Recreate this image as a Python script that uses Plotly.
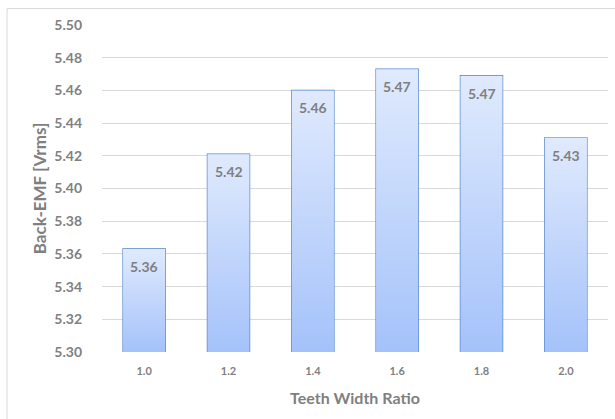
import plotly.graph_objects as go

# Back-EMF versus teeth width ratio
ratios = ["1.0", "1.2", "1.4", "1.6", "1.8", "2.0"]
back_emf = [5.363, 5.421, 5.460, 5.473, 5.469, 5.431]
y_ticks = [5.30, 5.32, 5.34, 5.36, 5.38, 5.40, 5.42, 5.44, 5.46, 5.48, 5.50]

Y_MIN, Y_MAX = 5.30, 5.50
BAR_W = 0.5
FONT = "Lato"
GRAY = "#7f7f7f"

fig = go.Figure()

# gradient fill for each bar (light at top, deeper blue at base)
for i, v in enumerate(back_emf):
    x0, x1 = i - BAR_W / 2, i + BAR_W / 2
    fig.add_trace(go.Scatter(
        x=[x0, x1, x1, x0, x0],
        y=[Y_MIN, Y_MIN, v, v, Y_MIN],
        mode="lines",
        line=dict(width=0),
        fill="toself",
        fillgradient=dict(
            type="vertical",
            colorscale=[[0, "#a4c2fa"], [1, "#e0eafd"]],
        ),
        hoverinfo="skip",
        showlegend=False,
    ))

# bar outlines
fig.add_trace(go.Bar(
    x=list(range(len(ratios))),
    y=[v - Y_MIN for v in back_emf],
    base=Y_MIN,
    width=BAR_W,
    marker=dict(color="rgba(0,0,0,0)", line=dict(color="#4f82cc", width=1.3)),
    hoverinfo="skip",
    showlegend=False,
))

# value labels just inside the top of each bar
annotations = [
    dict(x=i, y=v, xref="x", yref="y", text=f"{v:.2f}", showarrow=False,
         yanchor="top", yshift=-7,
         font=dict(family=FONT, size=14, color=GRAY, weight="bold"))
    for i, v in enumerate(back_emf)
]

fig.update_layout(
    width=615,
    height=419,
    margin=dict(l=102, r=7, t=25, b=67),
    paper_bgcolor="white",
    plot_bgcolor="white",
    font=dict(family=FONT, color=GRAY),
    showlegend=False,
    annotations=annotations,
    xaxis=dict(
        tickmode="array",
        tickvals=list(range(len(ratios))),
        ticktext=ratios,
        range=[-0.5, len(ratios) - 0.5],
        showgrid=False,
        zeroline=False,
        showline=False,
        ticks="",
        tickfont=dict(family=FONT, size=11, color=GRAY, weight="bold"),
        ticklabelstandoff=11,
        title=dict(text="Teeth Width Ratio", standoff=16,
                   font=dict(family=FONT, size=16, color=GRAY, weight="bold")),
    ),
    yaxis=dict(
        range=[Y_MIN, Y_MAX],
        tickmode="array",
        tickvals=y_ticks,
        ticktext=[f"{t:.2f}" for t in y_ticks],
        showgrid=True,
        gridcolor="#d9d9d9",
        gridwidth=1,
        zeroline=False,
        showline=False,
        ticks="",
        tickfont=dict(family=FONT, size=14, color=GRAY, weight="bold"),
        ticklabelstandoff=19,
        title=dict(text="Back-EMF [Vrms]", standoff=3,
                   font=dict(family=FONT, size=17, color=GRAY, weight="bold")),
    ),
    shapes=[
        # light frame round the chart
        dict(type="rect", xref="paper", yref="paper",
             x0=-0.1877, x1=1.03, y0=-0.21, y1=1.0505,
             line=dict(color="#d9d9d9", width=1), fillcolor="rgba(0,0,0,0)",
             layer="below"),
    ],
)

fig.write_html("out.html")
